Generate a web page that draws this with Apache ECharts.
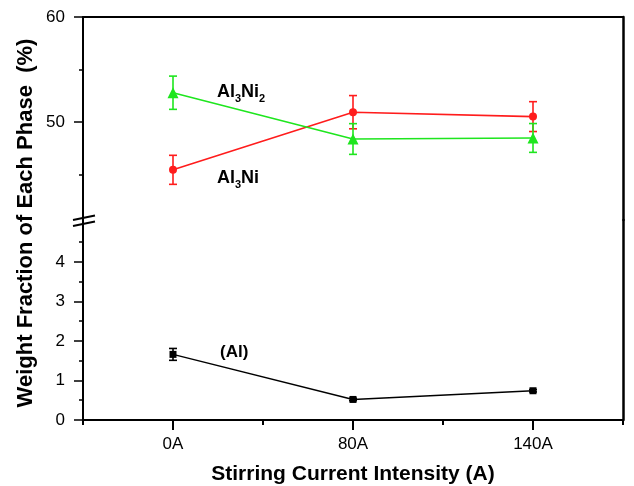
<!DOCTYPE html>
<html>
<head>
<meta charset="utf-8">
<script src="https://cdn.jsdelivr.net/npm/echarts@6/dist/echarts.min.js"></script>
<style>html,body{margin:0;padding:0;background:#fff}#c{width:634px;height:486px}</style>
</head>
<body>
<div id="c"></div>
<script>
// ---- data ----
var categories = ['0A', '80A', '140A'];
var al3ni = [45.47, 50.95, 50.53];
var al3niErr = [1.38, 1.58, 1.42];
var al3ni2 = [52.8, 48.4, 48.5];
var al3ni2Err = [1.58, 1.46, 1.37];
var al = [1.66, 0.52, 0.74];
var alErr = [0.15, 0.03, 0.03];
var upperTicks = [50, 60];
var upperMinor = [45, 55];
var lowerTicks = [0, 1, 2, 3, 4];
var lowerMinor = [0.5, 1.5, 2.5, 3.5, 4.5];

var RED = '#ff1c1c', GREEN = '#1ee61e', BLACK = '#000';
var FONT = 'Liberation Sans, Arial, sans-serif';

function errData(vals, errs) {
  return vals.map(function (v, i) { return [i, v, errs[i]]; });
}
function errSeries(vals, errs, color, xi, yi) {
  return {
    type: 'custom', xAxisIndex: xi, yAxisIndex: yi, z: 1,
    data: errData(vals, errs),
    encode: { x: 0, y: 1 },
    renderItem: function (params, api) {
      var x = api.value(0), y = api.value(1), e = api.value(2);
      var top = api.coord([x, y + e]);
      var bot = api.coord([x, y - e]);
      var w = 4;
      var st = { stroke: color, lineWidth: 1.6 };
      return { type: 'group', children: [
        { type: 'line', shape: { x1: top[0], y1: top[1], x2: bot[0], y2: bot[1] }, style: st },
        { type: 'line', shape: { x1: top[0] - w, y1: top[1], x2: top[0] + w, y2: top[1] }, style: st },
        { type: 'line', shape: { x1: bot[0] - w, y1: bot[1], x2: bot[0] + w, y2: bot[1] }, style: st }
      ]};
    }
  };
}

var axisLine = { show: true, lineStyle: { color: BLACK, width: 2 } };
var labelStyle = { color: BLACK, fontSize: 17, fontFamily: FONT };

var chart = echarts.init(document.getElementById('c'), null, { renderer: 'canvas' });
chart.setOption({
  animation: false,
  backgroundColor: '#fff',
  grid: [
    { left: 83, right: 11, top: 17, height: 203 },
    { left: 83, right: 11, top: 220, height: 200.5 }
  ],
  xAxis: [
    { gridIndex: 0, type: 'category', data: categories, position: 'top',
      axisLine: axisLine, axisTick: { show: false }, axisLabel: { show: false }, splitLine: { show: false } },
    { gridIndex: 1, type: 'category', data: categories, position: 'bottom',
      axisLine: axisLine,
      axisTick: { show: true, alignWithLabel: true, length: 10, lineStyle: { color: BLACK, width: 2 } },
      axisLabel: Object.assign({ margin: 16 }, labelStyle),
      name: 'Stirring Current Intensity (A)', nameLocation: 'middle', nameGap: 44,
      nameTextStyle: { color: BLACK, fontSize: 21, fontWeight: 'bold', fontFamily: FONT } },
    { gridIndex: 1, type: 'category', data: categories, position: 'bottom',
      axisLine: { show: false },
      axisTick: { show: true, length: 5, lineStyle: { color: BLACK, width: 2 } },
      axisLabel: { show: false } }
  ],
  yAxis: [
    { gridIndex: 0, type: 'value', min: 40.7, max: 60, position: 'left',
      axisLine: axisLine,
      axisTick: { show: true, customValues: upperTicks, length: 9, lineStyle: { color: BLACK, width: 1.5 } },
      axisLabel: Object.assign({ customValues: upperTicks, margin: 18 }, labelStyle),
      splitLine: { show: false } },
    { gridIndex: 0, type: 'value', min: 40.7, max: 60, position: 'left',
      axisLine: { show: false },
      axisTick: { show: true, customValues: upperMinor, length: 4, lineStyle: { color: BLACK, width: 1.5 } },
      axisLabel: { show: false }, splitLine: { show: false } },
    { gridIndex: 0, type: 'value', min: 40.7, max: 60, position: 'right',
      axisLine: { show: true, lineStyle: { color: BLACK, width: 2.5 } },
      axisTick: { show: false }, axisLabel: { show: false }, splitLine: { show: false } },
    { gridIndex: 1, type: 'value', min: 0, max: 5.06, position: 'left',
      axisLine: axisLine,
      axisTick: { show: true, customValues: lowerTicks, length: 9, lineStyle: { color: BLACK, width: 1.5 } },
      axisLabel: Object.assign({ customValues: lowerTicks, margin: 18 }, labelStyle),
      splitLine: { show: false } },
    { gridIndex: 1, type: 'value', min: 0, max: 5.06, position: 'left',
      axisLine: { show: false },
      axisTick: { show: true, customValues: lowerMinor, length: 4, lineStyle: { color: BLACK, width: 1.5 } },
      axisLabel: { show: false }, splitLine: { show: false } },
    { gridIndex: 1, type: 'value', min: 0, max: 5.06, position: 'right',
      axisLine: { show: true, lineStyle: { color: BLACK, width: 2.5 } },
      axisTick: { show: false }, axisLabel: { show: false }, splitLine: { show: false } }
  ],
  series: [
    errSeries(al3ni, al3niErr, RED, 0, 0),
    errSeries(al3ni2, al3ni2Err, GREEN, 0, 0),
    errSeries(al, alErr, BLACK, 1, 3),
    { name: 'Al3Ni', type: 'line', xAxisIndex: 0, yAxisIndex: 0, data: al3ni, z: 3,
      symbol: 'circle', symbolSize: 8, itemStyle: { color: RED },
      lineStyle: { color: RED, width: 1.6 } },
    { name: 'Al3Ni2', type: 'line', xAxisIndex: 0, yAxisIndex: 0, data: al3ni2, z: 3,
      symbol: 'triangle', symbolSize: 11, itemStyle: { color: GREEN },
      lineStyle: { color: GREEN, width: 1.6 } },
    { name: '(Al)', type: 'line', xAxisIndex: 1, yAxisIndex: 3, data: al, z: 3,
      symbol: 'rect', symbolSize: 7, itemStyle: { color: BLACK },
      lineStyle: { color: BLACK, width: 1.4 } }
  ],
  graphic: [
    { type: 'text', x: 26, y: 223, rotation: Math.PI / 2,
      style: { text: 'Weight Fraction of Each Phase  (%)', fill: BLACK,
        font: 'bold 22px ' + FONT, textAlign: 'center', textVerticalAlign: 'middle' } },
    { type: 'text', x: 217, y: 92,
      style: { text: '{a|Al}{s|3}{a|Ni}{s|2}', textVerticalAlign: 'middle', fill: BLACK,
        rich: { a: { fontSize: 18, fontWeight: 'bold', fontFamily: FONT, lineHeight: 24, fill: BLACK },
                s: { fontSize: 11, fontWeight: 'bold', fontFamily: FONT, lineHeight: 11, verticalAlign: 'bottom', fill: BLACK } } } },
    { type: 'text', x: 217, y: 178,
      style: { text: '{a|Al}{s|3}{a|Ni}', textVerticalAlign: 'middle', fill: BLACK,
        rich: { a: { fontSize: 18, fontWeight: 'bold', fontFamily: FONT, lineHeight: 24, fill: BLACK },
                s: { fontSize: 11, fontWeight: 'bold', fontFamily: FONT, lineHeight: 11, verticalAlign: 'bottom', fill: BLACK } } } },
    { type: 'text', x: 220, y: 352,
      style: { text: '(Al)', fill: BLACK, font: 'bold 17px ' + FONT, textVerticalAlign: 'middle' } },
    { type: 'line', shape: { x1: 73, y1: 220, x2: 95, y2: 215.5 }, style: { stroke: BLACK, lineWidth: 2 }, z: 100 },
    { type: 'line', shape: { x1: 73, y1: 226, x2: 95, y2: 221.5 }, style: { stroke: BLACK, lineWidth: 2 }, z: 100 }
  ]
});
</script>
</body>
</html>
